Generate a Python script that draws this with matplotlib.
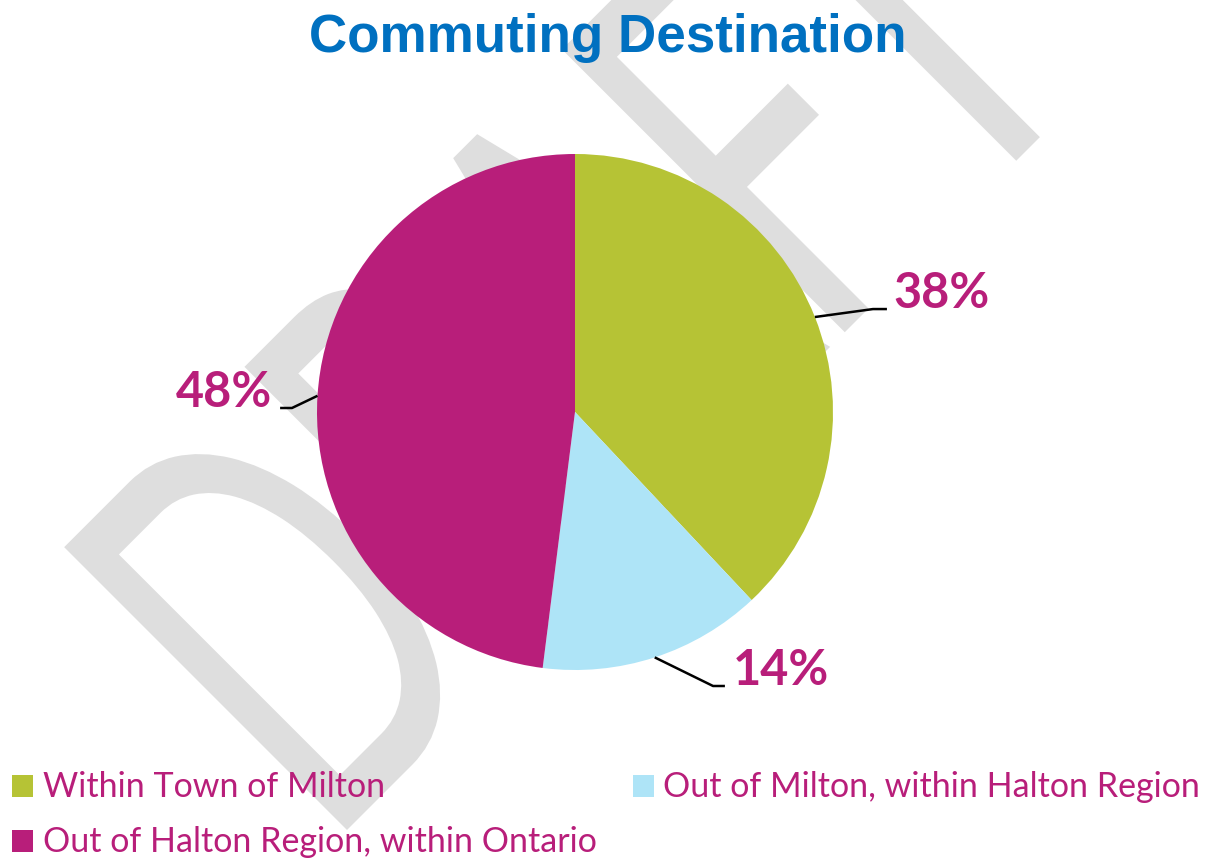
import numpy as np
import matplotlib
matplotlib.use("Agg")
import matplotlib.pyplot as plt
from matplotlib.textpath import TextPath
from matplotlib.font_manager import FontProperties
from matplotlib.patches import PathPatch, Rectangle
from matplotlib.transforms import Affine2D

# ---- data ----
categories = ["Within Town of Milton",
              "Out of Milton, within Halton Region",
              "Out of Halton Region, within Ontario"]
shares = [38, 14, 48]
pct_labels = ["38%", "14%", "48%"]
colors = ["#B6C335", "#AEE4F7", "#B81E7A"]
title = "Commuting Destination"
watermark = "DRAFT"

# ---- layout (pixels) ----
W, H = 1211, 861
CX, CY, R = 575, 412, 258.0          # pie centre (y from top) and radius
TEXT_COL = "#B81E7A"

fig = plt.figure(figsize=(W / 100, H / 100), dpi=100)
fig.patch.set_facecolor("white")

# background axes in pixel coordinates (y up)
bg = fig.add_axes([0, 0, 1, 1], zorder=0)
bg.set_xlim(0, W)
bg.set_ylim(0, H)
bg.axis("off")

# watermark letters
fp_wm = FontProperties(family="Lato", weight="regular")
cap = TextPath((0, 0), "D", size=1, prop=fp_wm).get_extents().y1
sy = 400 / cap
sx = sy * 0.62
offsets = [0, 255, 451, 704, 866]
for letter, a in zip(watermark, offsets):
    p = TextPath((0, 0), letter, size=1, prop=fp_wm)
    x0 = p.get_extents().x0
    tr = (Affine2D().translate(-x0, 0).scale(sx, sy).translate(a, 0)
          .rotate_deg(45).translate(347, H - 830))
    bg.add_patch(PathPatch(tr.transform_path(p), fc="#DEDEDE", ec="none", zorder=0))

# title
bg.text(607.5, H - 52, title, ha="center", va="baseline", fontsize=38.2,
        fontweight="bold", family="Liberation Sans", color="#0070C0", zorder=3)

# legend (manual)
leg_pos = [(12, 797, 43), (633, 797, 663), (12, 852, 43)]
for (sqx, base, tx), name, col in zip(leg_pos, categories, colors):
    bg.add_patch(Rectangle((sqx, H - base), 21, 22, fc=col, ec="none", zorder=3))
    bg.text(tx, H - base, name, ha="left", va="baseline", fontsize=24.5,
            family="Lato", color=TEXT_COL, zorder=3)

# pie axes in units of the radius
ax = fig.add_axes([0, 0, 1, 1], zorder=1)
ax.patch.set_visible(False)
wedges, _ = ax.pie(shares, colors=colors, startangle=90, counterclock=False,
                   radius=1, center=(0, 0), wedgeprops=dict(linewidth=0))
ax.set_xlim(-CX / R, (W - CX) / R)
ax.set_ylim(-(H - CY) / R, CY / R)
ax.set_aspect("auto")
ax.axis("off")

elbows = [(1.155, 0.399), (0.535, -1.062), (-1.097, 0.0155)]
ends = [(1.209, 0.399), (0.581, -1.062), (-1.143, 0.0155)]
label_pos = [(1.233, 0.403, "left"), (0.612, -1.058, "left"), (-1.174, 0.019, "right")]
for w, el, en, (lx, ly, ha), lab in zip(wedges, elbows, ends, label_pos, pct_labels):
    ang = np.deg2rad((w.theta1 + w.theta2) / 2)
    sxp, syp = np.cos(ang), np.sin(ang)
    ax.plot([sxp, el[0], en[0]], [syp, el[1], en[1]], color="black", lw=1.8,
            solid_capstyle="butt", zorder=3)
    ax.text(lx, ly, lab, ha=ha, va="baseline", fontsize=35, fontweight="bold",
            family="Lato", color=TEXT_COL, zorder=4)

fig.savefig("out.png", dpi=100, facecolor="white")
